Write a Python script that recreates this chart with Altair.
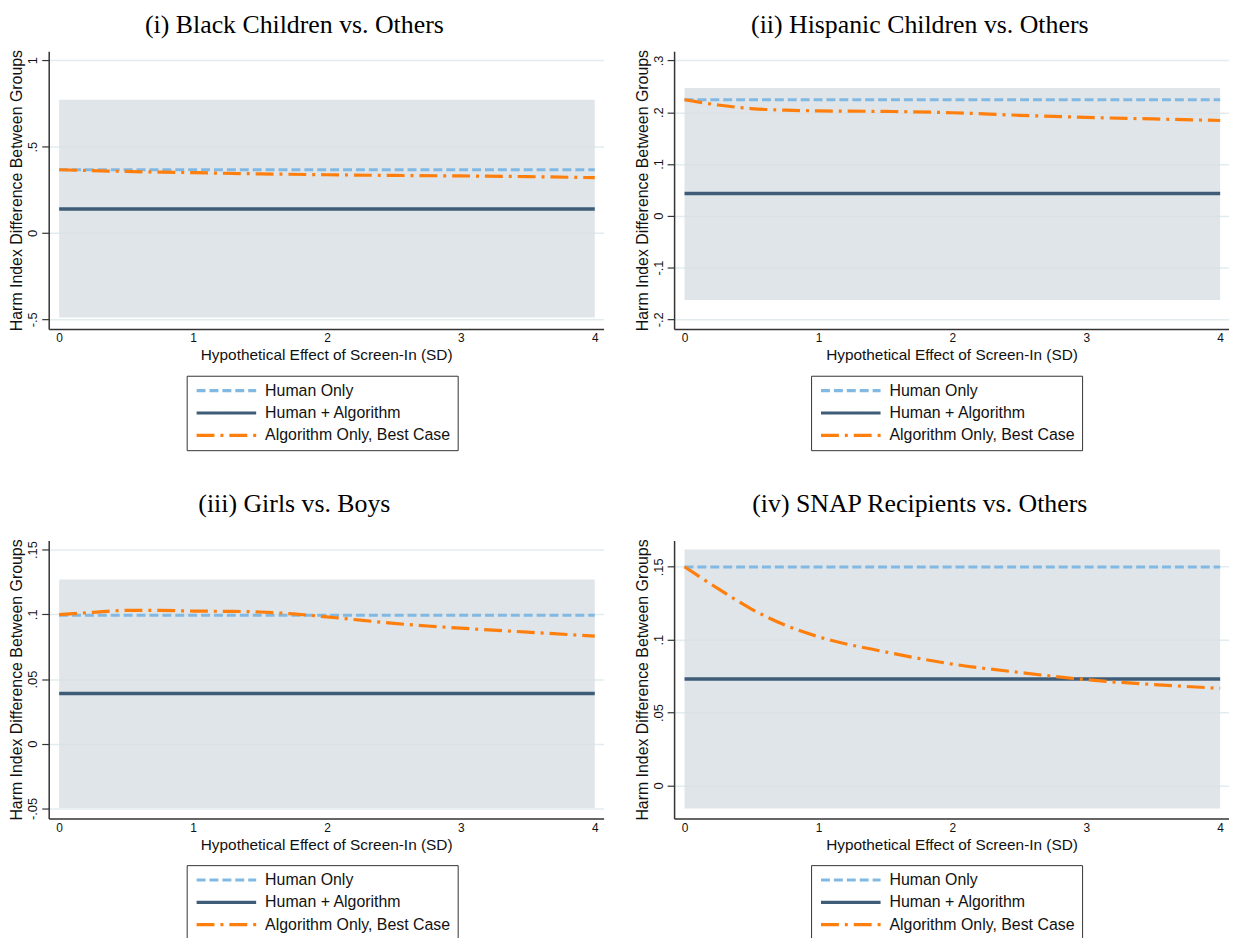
import altair as alt
import pandas as pd

SERIES = ["Human Only", "Human + Algorithm", "Algorithm Only, Best Case"]
COLORS = ["#82b9e3", "#3e5c77", "#ff7f0e"]
DASHES = [[9, 4], [1, 0], [18, 6, 3, 6]]

X_TICKS = [0, 1, 2, 3, 4]
X_DOMAIN = [-0.078, 4.066]

# Panel (i)
p1_title = "(i) Black Children vs. Others"
p1_human = 0.366
p1_hybrid = 0.139
p1_band = [-0.49, 0.771]
p1_algo_x = [0, 0.5, 1, 1.5, 2, 2.5, 3, 3.5, 4]
p1_algo_y = [0.366, 0.356, 0.349, 0.342, 0.337, 0.333, 0.330, 0.326, 0.320]
p1_ydomain = [-0.557, 1.053]
p1_yticks = [-0.5, 0, 0.5, 1]

# Panel (ii)
p2_title = "(ii) Hispanic Children vs. Others"
p2_human = 0.224
p2_hybrid = 0.043
p2_band = [-0.163, 0.247]
p2_algo_x = [0, 0.25, 0.5, 0.75, 1, 1.5, 2, 2.5, 3, 3.5, 4]
p2_algo_y = [0.224, 0.214, 0.207, 0.204, 0.2025, 0.2015, 0.199, 0.194, 0.190, 0.187, 0.184]
p2_ydomain = [-0.219, 0.318]
p2_yticks = [-0.2, -0.1, 0, 0.1, 0.2, 0.3]

# Panel (iii)
p3_title = "(iii) Girls vs. Boys"
p3_human = 0.0992
p3_hybrid = 0.0388
p3_band = [-0.0497, 0.1268]
p3_algo_x = [0, 0.25, 0.5, 0.75, 1, 1.25, 1.5, 1.75, 2, 2.25, 2.5, 2.75, 3, 3.5, 4]
p3_algo_y = [0.0997, 0.1015, 0.1030, 0.1030, 0.1025, 0.1023, 0.1018, 0.1003,
             0.0980, 0.0955, 0.0930, 0.0910, 0.0893, 0.0862, 0.0832]
p3_ydomain = [-0.0577, 0.157]
p3_yticks = [-0.05, 0, 0.05, 0.1, 0.15]

# Panel (iv)
p4_title = "(iv) SNAP Recipients vs. Others"
p4_human = 0.1498
p4_hybrid = 0.073
p4_band = [-0.0159, 0.1618]
p4_algo_x = [0, 0.25, 0.5, 0.75, 1, 1.5, 2, 2.5, 3, 3.5, 4]
p4_algo_y = [0.150, 0.135, 0.121, 0.110, 0.102, 0.0916, 0.0832, 0.0775, 0.0725, 0.0692, 0.0666]
p4_ydomain = [-0.0227, 0.168]
p4_yticks = [0, 0.05, 0.1, 0.15]

SANS = "Liberation Sans"
SERIF = "Liberation Serif"
AXIS_COLOR = "#333333"
PW, PH = 559, 280


def panel(title, human, hybrid, band, ax, ay, ydom, yticks, lx, toff):
    xs = alt.Scale(domain=X_DOMAIN, nice=False, zero=False)
    ys = alt.Scale(domain=ydom, nice=False, zero=False)
    xaxis = alt.Axis(values=X_TICKS, title="Hypothetical Effect of Screen-In (SD)",
                     grid=False, ticks=False, labelPadding=4, labelFontSize=12,
                     labelFont=SANS, titleFont=SANS, titleFontSize=15.5,
                     titleFontWeight="normal", titlePadding=4,
                     domainColor=AXIS_COLOR, domainWidth=1.5,
                     labelColor="#111111", titleColor="#111111", format="d")
    yaxis = alt.Axis(values=yticks, title="Harm Index Difference Between Groups",
                     grid=True, gridColor="#e2ecef", gridWidth=1.5,
                     tickSize=7, tickColor=AXIS_COLOR, tickWidth=1.2,
                     labelAngle=270, labelAlign="center", labelBaseline="bottom",
                     labelPadding=2, labelFontSize=13, labelFont=SANS,
                     labelExpr="replace(toString(datum.value), regexp('^(-?)0\\\\.'), '$1.')",
                     titleFont=SANS, titleFontSize=16, titleFontWeight="normal",
                     titlePadding=2, domainColor=AXIS_COLOR, domainWidth=1.5,
                     labelColor="#111111", titleColor="#111111")
    legend = alt.Legend(title=None, orient="none", legendX=lx, legendY=327,
                        symbolType="M-1,0H11", symbolSize=100, symbolStrokeWidth=3.2,
                        labelFont=SANS, labelFontSize=16, labelColor="#111111",
                        labelOffset=56, rowPadding=6.5, padding=7,
                        strokeColor=AXIS_COLOR, fillColor="white", labelLimit=300)
    color = alt.Color("series:N", scale=alt.Scale(domain=SERIES, range=COLORS), legend=legend)
    dash = alt.StrokeDash("series:N", scale=alt.Scale(domain=SERIES, range=DASHES), legend=legend)

    band_df = pd.DataFrame({"x": [0], "x2": [4], "lo": [band[0]], "hi": [band[1]]})
    human_df = pd.DataFrame({"x": [0, 4], "y": [human, human], "series": [SERIES[0]] * 2})
    hybrid_df = pd.DataFrame({"x": [0, 4], "y": [hybrid, hybrid], "series": [SERIES[1]] * 2})
    algo_df = pd.DataFrame({"x": ax, "y": ay, "series": [SERIES[2]] * len(ax)})

    band_layer = alt.Chart(band_df).mark_rect(color="#d9e0e5", opacity=0.85).encode(
        x=alt.X("x:Q", scale=xs, axis=xaxis), x2="x2:Q",
        y=alt.Y("lo:Q", scale=ys, axis=yaxis), y2="hi:Q")

    def line(df, width, interp):
        return alt.Chart(df).mark_line(strokeWidth=width, interpolate=interp, clip=True).encode(
            x=alt.X("x:Q", scale=xs), y=alt.Y("y:Q", scale=ys),
            color=color, strokeDash=dash)

    layers = alt.layer(
        band_layer,
        line(human_df, 3, "linear"),
        line(hybrid_df, 3.5, "linear"),
        line(algo_df, 3.2, "monotone"),
    ).properties(
        width=PW, height=PH,
        title=alt.TitleParams(title, font=SERIF, fontSize=26, fontWeight="normal",
                              anchor="middle", dx=-32, offset=toff, color="black"),
    )
    return layers


def row(a, b):
    return alt.hconcat(a, b, spacing=30).resolve_scale(
        color="independent", strokeDash="independent"
    ).resolve_legend(color="independent", strokeDash="independent")


c1 = panel(p1_title, p1_human, p1_hybrid, p1_band, p1_algo_x, p1_algo_y, p1_ydomain, p1_yticks, 139, 12)
c2 = panel(p2_title, p2_human, p2_hybrid, p2_band, p2_algo_x, p2_algo_y, p2_ydomain, p2_yticks, 138, 12)
c3 = panel(p3_title, p3_human, p3_hybrid, p3_band, p3_algo_x, p3_algo_y, p3_ydomain, p3_yticks, 139, 22)
c4 = panel(p4_title, p4_human, p4_hybrid, p4_band, p4_algo_x, p4_algo_y, p4_ydomain, p4_yticks, 138, 22)

chart = alt.vconcat(row(c1, c2), row(c3, c4), spacing=40).resolve_scale(
    color="independent", strokeDash="independent"
).resolve_legend(color="independent", strokeDash="independent").properties(
    padding=0, background="white"
).configure_view(stroke=None)

chart.save("out.html", embed_options={"renderer": "svg", "actions": False})
